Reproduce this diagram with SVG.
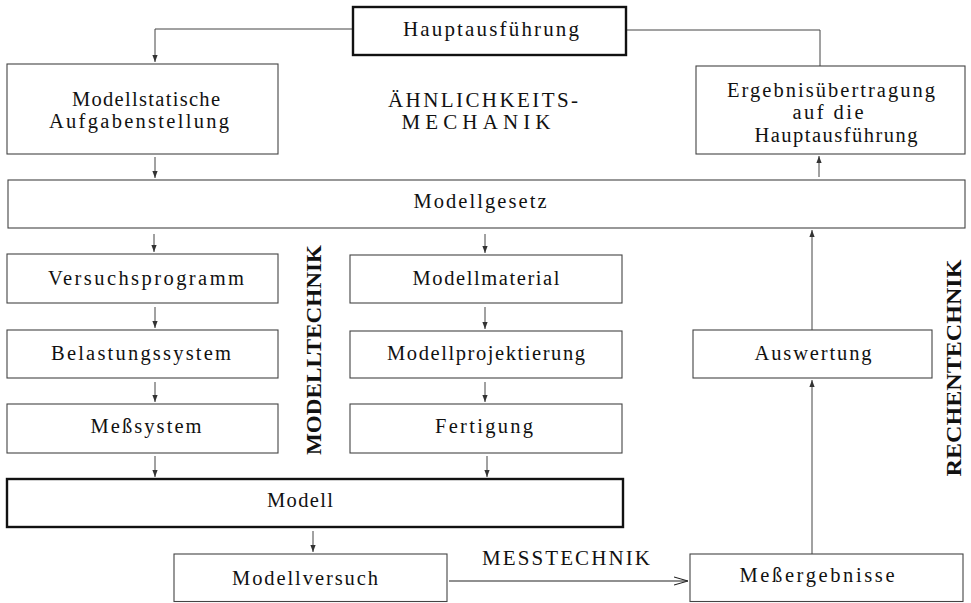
<svg xmlns="http://www.w3.org/2000/svg" width="971" height="603" viewBox="0 0 971 603">
<defs>
<style>
.box{fill:#fff;stroke:#444;stroke-width:1.1}
.thick{fill:#fff;stroke:#111;stroke-width:2.4}
.t{font-family:"Liberation Serif","Times New Roman",serif;font-size:20.5px;fill:#111;text-anchor:middle}
.h{font-family:"Liberation Serif","Times New Roman",serif;font-size:21px;fill:#111;text-anchor:middle}
.v{font-family:"Liberation Serif","Times New Roman",serif;font-size:21px;font-weight:bold;fill:#111;text-anchor:middle}
.c{fill:none;stroke:#444;stroke-width:1}
.m{fill:none;stroke:#222;stroke-width:1.2}
</style>
<marker id="ah" viewBox="0 0 8 8" refX="8" refY="4" markerWidth="7" markerHeight="7" markerUnits="userSpaceOnUse" orient="auto">
<path d="M0,1 L8,4 L0,7 Z" fill="#333"/>
</marker>
<marker id="open" viewBox="0 0 14 10" refX="14" refY="5" markerWidth="14" markerHeight="10" markerUnits="userSpaceOnUse" orient="auto">
<path d="M0,1 L14,5 L0,9" fill="none" stroke="#222" stroke-width="1.2"/>
</marker>
</defs>
<rect width="971" height="603" fill="#fff"/>

<g id="connectors">
<path class="c" d="M353,29 H155 V62" marker-end="url(#ah)"/>
<path class="c" d="M626,30 H820 V66"/>
<path class="c" d="M155,157 V178" marker-end="url(#ah)"/>
<path class="c" d="M819,177 V156" marker-end="url(#ah)"/>
<path class="c" d="M154,234 V252" marker-end="url(#ah)"/>
<path class="c" d="M485,234 V253" marker-end="url(#ah)"/>
<path class="c" d="M155,307 V328" marker-end="url(#ah)"/>
<path class="c" d="M485,307 V329" marker-end="url(#ah)"/>
<path class="c" d="M155,382 V402" marker-end="url(#ah)"/>
<path class="c" d="M485,382 V402" marker-end="url(#ah)"/>
<path class="c" d="M155,456 V477" marker-end="url(#ah)"/>
<path class="c" d="M487,456 V477" marker-end="url(#ah)"/>
<path class="c" d="M313,531 V552" marker-end="url(#ah)"/>
<path class="m" d="M449,581 H688" marker-end="url(#open)"/>
<path class="c" d="M812,554 V380" marker-end="url(#ah)"/>
<path class="c" d="M812,330 V230" marker-end="url(#ah)"/>
</g>

<g id="n-hauptausfuehrung"><rect class="thick" x="353" y="7" width="273" height="48"/><text class="h" x="491" y="36" textLength="176" lengthAdjust="spacing">Hauptausführung</text></g>
<g id="n-modellstatische"><rect class="box" x="7" y="64" width="271" height="90"/><text class="t" x="146" y="106" textLength="148" lengthAdjust="spacing">Modellstatische</text><text class="t" x="139" y="128" textLength="180" lengthAdjust="spacing">Aufgabenstellung</text></g>
<g id="n-ergebnis"><rect class="box" x="696" y="66" width="269" height="88"/><text class="t" x="831" y="97" textLength="208" lengthAdjust="spacing">Ergebnisübertragung</text><text class="t" x="828" y="119" textLength="71" lengthAdjust="spacing">auf die</text><text class="t" x="836" y="142" textLength="163" lengthAdjust="spacing">Hauptausführung</text></g>
<g id="l-aehnlichkeit"><text class="h" x="483" y="107" textLength="190" lengthAdjust="spacing">ÄHNLICHKEITS-</text><text class="h" x="476" y="129" textLength="149" lengthAdjust="spacing">MECHANIK</text></g>
<g id="n-modellgesetz"><rect class="box" x="8" y="180" width="957" height="48"/><text class="t" x="480" y="208" textLength="133" lengthAdjust="spacing">Modellgesetz</text></g>
<g id="n-versuchsprogramm"><rect class="box" x="7" y="254" width="271" height="49"/><text class="t" x="146" y="285" textLength="196" lengthAdjust="spacing">Versuchsprogramm</text></g>
<g id="n-modellmaterial"><rect class="box" x="350" y="255" width="272" height="48"/><text class="t" x="486" y="285" textLength="147" lengthAdjust="spacing">Modellmaterial</text></g>
<g id="n-belastungssystem"><rect class="box" x="7" y="330" width="271" height="48"/><text class="t" x="141" y="360" textLength="180" lengthAdjust="spacing">Belastungssystem</text></g>
<g id="n-modellprojektierung"><rect class="box" x="350" y="331" width="272" height="47"/><text class="t" x="486" y="360" textLength="198" lengthAdjust="spacing">Modellprojektierung</text></g>
<g id="n-messsystem"><rect class="box" x="7" y="404" width="271" height="49"/><text class="t" x="146" y="433" textLength="111" lengthAdjust="spacing">Meßsystem</text></g>
<g id="n-fertigung"><rect class="box" x="350" y="404" width="272" height="49"/><text class="t" x="484" y="433" textLength="98" lengthAdjust="spacing">Fertigung</text></g>
<g id="n-modell"><rect class="thick" x="7" y="479" width="616" height="48"/><text class="t" x="300" y="507" textLength="66" lengthAdjust="spacing">Modell</text></g>
<g id="n-modellversuch"><rect class="box" x="174" y="554" width="273" height="47.5"/><text class="t" x="305" y="585" textLength="146" lengthAdjust="spacing">Modellversuch</text></g>
<g id="n-messergebnisse"><rect class="box" x="690" y="554" width="273" height="47.5"/><text class="t" x="817" y="582" textLength="155" lengthAdjust="spacing">Meßergebnisse</text></g>
<g id="n-auswertung"><rect class="box" x="693" y="330" width="239" height="48"/><text class="t" x="813" y="360" textLength="117" lengthAdjust="spacing">Auswertung</text></g>
<g id="l-messtechnik"><text class="h" x="566" y="565" textLength="168" lengthAdjust="spacing">MESSTECHNIK</text></g>
<g id="l-modelltechnik"><text class="v" transform="translate(321,350) rotate(-90)" x="0" y="0" textLength="210" lengthAdjust="spacingAndGlyphs">MODELLTECHNIK</text></g>
<g id="l-rechentechnik"><text class="v" transform="translate(961,368) rotate(-90)" x="0" y="0" textLength="217" lengthAdjust="spacingAndGlyphs">RECHENTECHNIK</text></g>
</svg>
